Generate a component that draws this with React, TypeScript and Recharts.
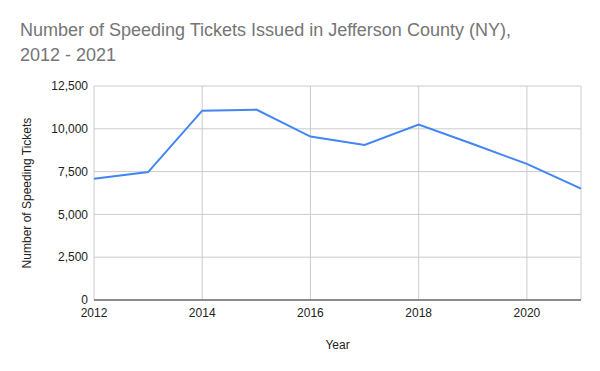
import React from 'react';
import { LineChart, Line, XAxis, YAxis, CartesianGrid } from 'recharts';

// values
const years = [2012, 2013, 2014, 2015, 2016, 2017, 2018, 2019, 2020, 2021];
const tickets = [7080, 7470, 11060, 11120, 9545, 9060, 10245, 9110, 7950, 6510];
const yearTicks = [2012, 2014, 2016, 2018, 2020];
const countTicks = [0, 2500, 5000, 7500, 10000, 12500];

const data = years.map((year, i) => ({ year, tickets: tickets[i] }));

const font = '"Liberation Sans", Arial, sans-serif';

const App: React.FC = () => {
    return (
        <div style={{ position: 'absolute', left: 0, top: 0, width: 600, height: 371, background: '#fff', fontFamily: font }}>
            <div
                style={{
                    position: 'absolute',
                    left: 20,
                    top: 18,
                    fontSize: 18,
                    lineHeight: '25px',
                    color: '#757575',
                    whiteSpace: 'nowrap',
                }}
            >
                Number of Speeding Tickets Issued in Jefferson County (NY),
                <br />
                2012 - 2021
            </div>
            <LineChart
                width={600}
                height={371}
                data={data}
                margin={{ top: 86, right: 19, bottom: 0, left: 0 }}
            >
                <CartesianGrid stroke="#cccccc" strokeWidth={1} />
                <XAxis
                    dataKey="year"
                    type="number"
                    domain={[2012, 2021]}
                    ticks={yearTicks}
                    height={71}
                    tickLine={false}
                    axisLine={{ stroke: '#333333', strokeWidth: 1 }}
                    tick={{ fill: '#222222', fontSize: 12, fontFamily: font }}
                    label={{ value: 'Year', position: 'insideBottom', offset: 22, fill: '#222222', fontSize: 12, fontFamily: font }}
                />
                <YAxis
                    type="number"
                    domain={[0, 12500]}
                    ticks={countTicks}
                    width={94}
                    tickLine={false}
                    axisLine={false}
                    tickMargin={0}
                    tick={{ fill: '#222222', fontSize: 12, fontFamily: font }}
                    tickFormatter={(v: number) => v.toLocaleString('en-US')}
                    label={{
                        value: 'Number of Speeding Tickets',
                        angle: -90,
                        position: 'insideLeft',
                        offset: 27,
                        fill: '#222222',
                        fontSize: 12,
                        fontFamily: font,
                        style: { textAnchor: 'middle' },
                    }}
                />
                <Line
                    type="linear"
                    dataKey="tickets"
                    stroke="#4285f4"
                    strokeWidth={2}
                    dot={false}
                    isAnimationActive={false}
                />
            </LineChart>
        </div>
    );
};

export default App;
